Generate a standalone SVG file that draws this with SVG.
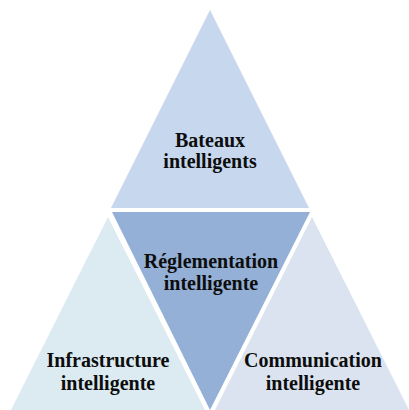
<svg xmlns="http://www.w3.org/2000/svg" width="409" height="410" viewBox="0 0 409 410">
<style>
text{font-family:"Liberation Serif","Times New Roman",serif;font-weight:bold;font-size:20px;fill:#0d0d0d;text-anchor:middle}
</style>
<rect width="409" height="410" fill="#ffffff"/>
<g id="bateaux">
<polygon points="210,10 309,208 111,208" fill="#c6d7ee"/>
<text x="210" y="147">Bateaux</text>
<text x="210" y="168">intelligents</text>
</g>
<g id="infrastructure">
<polygon points="108,217 205,410 11,410" fill="#dbebf1"/>
<text x="108" y="367">Infrastructure</text>
<text x="108" y="390">intelligente</text>
</g>
<g id="communication">
<polygon points="312,217 409,410 215,410" fill="#dae3ef"/>
<text x="313" y="367">Communication</text>
<text x="313" y="390">intelligente</text>
</g>
<g id="reglementation">
<polygon points="112,212 310,212 210,410" fill="#94b0d6"/>
<text x="211" y="268">Réglementation</text>
<text x="211" y="290">intelligente</text>
</g>
<g id="connectors"></g>
</svg>
